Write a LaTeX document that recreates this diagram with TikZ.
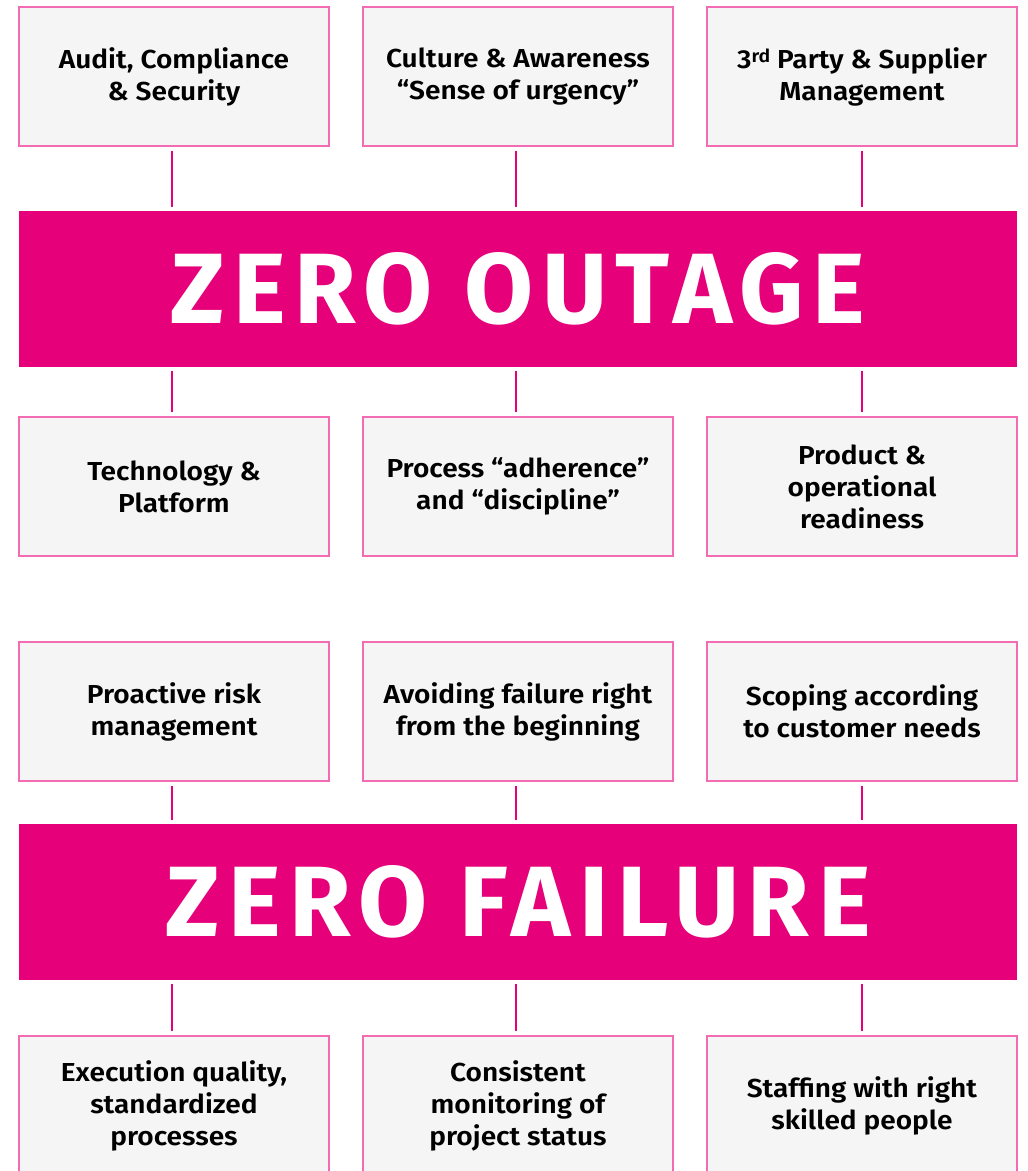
\documentclass[tikz,border=0pt]{standalone}
\usepackage{fontspec}
\setmainfont{Fira Sans}[UprightFont={* SemiBold},BoldFont={* Bold},FakeStretch=1.08]
\newfontfamily\bannerfont{Fira Sans}[UprightFont={* Bold},LetterSpace=8.5]
\definecolor{tmag}{HTML}{E6007A}
\definecolor{tpink}{HTML}{F36BB3}
\definecolor{tgrey}{HTML}{F5F5F5}
\tikzset{
  pillar/.style={draw=tpink,fill=tgrey,line width=1.5pt,minimum width=310pt,minimum height=139pt,
    inner sep=0pt,align=center,font=\fontsize{26}{32}\selectfont,text=black},
  banner/.style={fill=tmag,minimum width=998pt,minimum height=156pt,inner sep=0pt,
    font=\bannerfont\fontsize{100}{100}\selectfont,text=white},
  link/.style={draw=tmag,line width=2pt,shorten <=4pt,shorten >=4pt}
}
\begin{document}
\begin{tikzpicture}[x=1pt,y=-1pt]
\useasboundingbox[fill=white] (0,0) rectangle (1028,1171);
\clip (0,0) rectangle (1028,1171);
% top block
\node[pillar] (a1) at (174,76.5) {Audit, Compliance\\\& Security};
\node[pillar] (a2) at (518,76.5) {Culture \& Awareness\\“Sense of urgency”};
\node[pillar] (a3) at (862,76.5) {3{\fontsize{18}{18}\selectfont\raisebox{0.55ex}{rd}} Party \& Supplier\\Management};
\node[banner] (b1) at (518,289) {ZERO OUTAGE};
\node[pillar] (c1) at (174,486.5) {Technology \&\\Platform};
\node[pillar] (c2) at (518,486.5) {Process “adherence”\\and “discipline”};
\node[pillar] (c3) at (862,486.5) {Product \&\\operational\\readiness};
% bottom block
\node[pillar] (d1) at (174,711.5) {Proactive risk\\management};
\node[pillar] (d2) at (518,711.5) {Avoiding failure right\\from the beginning};
\node[pillar] (d3) at (862,711.5) {Scoping according\\to customer needs};
\node[banner] (b2) at (518,902) {ZERO FAILURE};
\node[pillar] (e1) at (174,1105.5) {Execution quality,\\standardized\\processes};
\node[pillar] (e2) at (518,1105.5) {Consistent\\monitoring of\\project status};
\node[pillar] (e3) at (862,1105.5) {Staffing with right\\skilled people};
% connectors
\foreach \n/\s in {1/-2pt,2/-2pt,3/0pt}{
  \draw[link] ([xshift=\s]a\n.south) -- ([xshift=\s]b1.north -| a\n.south);
  \draw[link] ([xshift=\s]b1.south -| c\n.north) -- ([xshift=\s]c\n.north);
  \draw[link] ([xshift=\s]d\n.south) -- ([xshift=\s]b2.north -| d\n.south);
  \draw[link] ([xshift=\s]b2.south -| e\n.north) -- ([xshift=\s]e\n.north);
}
\end{tikzpicture}
\end{document}
